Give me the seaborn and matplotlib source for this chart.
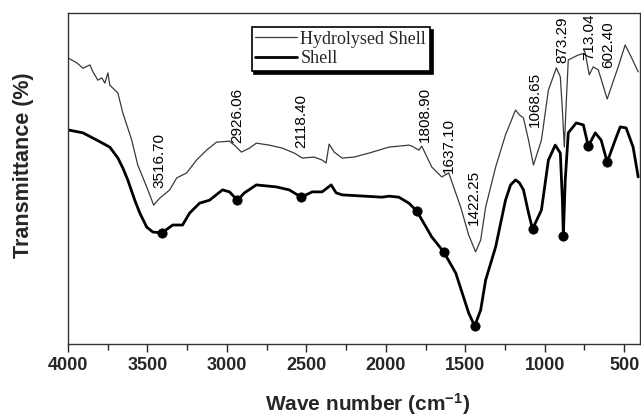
import numpy as np
import pandas as pd
import matplotlib
matplotlib.use("Agg")
import matplotlib.pyplot as plt
import seaborn as sns

# FTIR spectra (wave number in cm-1, transmittance in arbitrary %)
hydro_wn = [4000, 3944, 3906, 3862, 3843, 3812, 3787, 3768, 3749, 3737, 3686, 3655,
            3599, 3561, 3505, 3461, 3423, 3360, 3316, 3254, 3191, 3128, 3065, 2984,
            2946, 2909, 2858, 2815, 2733, 2652, 2576, 2526, 2451, 2401, 2376, 2357,
            2325, 2275, 2200, 2106, 1980, 1855, 1836, 1792, 1774, 1711, 1648, 1604,
            1529, 1479, 1435, 1403, 1372, 1309, 1247, 1209, 1184, 1159, 1134, 1102,
            1071, 1021, 977, 927, 902, 889, 877, 864, 852, 789, 745, 720, 695, 663,
            607, 538, 494, 456, 412]
hydro_t = [86.3, 84.8, 83.2, 84.2, 82.1, 79.6, 80.3, 78.7, 81.8, 78.1, 75.7, 69.7,
           61.5, 54.0, 47.4, 41.9, 44.0, 46.5, 50.1, 51.6, 55.5, 58.5, 60.9, 61.2,
           59.7, 57.9, 59.1, 60.6, 60.0, 59.1, 57.6, 56.1, 56.4, 55.5, 54.6, 60.3,
           57.9, 56.1, 56.4, 57.6, 59.4, 60.0, 59.7, 58.5, 59.7, 53.4, 50.4, 51.6,
           41.3, 32.9, 27.8, 31.4, 41.3, 53.4, 63.1, 67.6, 70.6, 69.1, 68.2, 61.5,
           54.0, 61.5, 76.6, 83.3, 80.6, 70.6, 59.4, 73.6, 85.7, 87.2, 87.8, 81.2,
           83.6, 82.7, 73.9, 83.6, 90.2, 86.6, 82.1]

shell_wn = [4000, 3906, 3818, 3737, 3686, 3655, 3624, 3580, 3548, 3505, 3467, 3410,
            3341, 3279, 3235, 3172, 3109, 3028, 2984, 2934, 2890, 2815, 2689, 2608,
            2532, 2463, 2401, 2344, 2313, 2275, 2024, 1980, 1918, 1855, 1805, 1711,
            1636, 1560, 1479, 1441, 1403, 1372, 1309, 1247, 1215, 1184, 1159, 1134,
            1102, 1077, 1021, 977, 934, 902, 889, 883, 871, 852, 802, 757, 726, 682,
            645, 607, 557, 525, 488, 444, 412]
shell_t = [64.6, 63.7, 61.5, 59.4, 56.1, 53.1, 49.5, 43.4, 39.5, 35.3, 33.8, 33.5,
           35.9, 35.9, 39.5, 42.5, 43.4, 46.5, 45.9, 43.4, 45.6, 48.0, 47.4, 46.5,
           44.3, 45.9, 45.9, 48.0, 45.6, 45.0, 44.3, 44.6, 44.3, 42.5, 40.1, 32.3,
           27.8, 21.4, 9.4, 5.4, 10.3, 19.3, 29.3, 43.4, 48.0, 49.5, 48.6, 46.5,
           39.5, 34.7, 40.4, 55.5, 60.0, 57.6, 43.4, 32.6, 49.5, 63.7, 66.7, 66.1,
           59.7, 63.7, 61.5, 54.9, 61.5, 65.5, 65.2, 59.4, 50.4]

# peaks marked with dots on the Shell curve
dot_wn = [3410, 2934, 2532, 1805, 1636, 1441, 1077, 883, 726, 607]

# peak labels and where they are written
peak_labels = ["3516.70", "2926.06", "2118.40", "1808.90", "1637.10",
               "1422.25", "1068.65", "873.29", "713.04", "602.40"]
label_wn = [3423, 2934, 2532, 1755, 1604, 1447, 1065, 889, 720, 601]
label_t = [47.1, 60.6, 59.1, 60.9, 51.6, 35.9, 65.5, 84.8, 85.7, 83.3]

sns.set_style("white")
plt.rcParams["font.family"] = ["Liberation Sans", "DejaVu Sans"]
plt.rcParams["mathtext.fontset"] = "custom"
plt.rcParams["mathtext.rm"] = "Liberation Sans:bold"
plt.rcParams["mathtext.default"] = "rm"

hydro = pd.DataFrame({"wn": hydro_wn, "T": hydro_t})
shell = pd.DataFrame({"wn": shell_wn, "T": shell_t})
dots = pd.DataFrame({"wn": dot_wn})
dots["T"] = np.interp(dots["wn"], shell["wn"][::-1], shell["T"][::-1])

fig = plt.figure(figsize=(6.41, 4.18), dpi=100)
ax = fig.add_axes([0.1061, 0.177, 0.8925, 0.793])

sns.lineplot(data=hydro, x="wn", y="T", ax=ax, color="#3a3a3a", linewidth=0.9,
             sort=False, estimator=None, label="Hydrolysed Shell")
sns.lineplot(data=shell, x="wn", y="T", ax=ax, color="black", linewidth=2.0,
             sort=False, estimator=None, label="Shell")
sns.scatterplot(data=dots, x="wn", y="T", ax=ax, color="black", s=45,
                edgecolor="black", zorder=5)

for txt, xw, yt in zip(peak_labels, label_wn, label_t):
    ax.text(xw, yt, txt, rotation=90, ha="center", va="bottom", fontsize=11,
            color="black")

ax.set_xlim(4000, 400)
ax.set_ylim(0, 100)
ax.set_xticks(np.arange(4000, 499, -500))
ax.set_xticks(np.arange(3750, 499, -500), minor=True)
ax.set_yticks([])
ax.tick_params(axis="x", which="major", direction="out", length=6, width=1,
               labelsize=13, pad=3, bottom=True)
ax.tick_params(axis="x", which="minor", direction="out", length=4, width=1,
               bottom=True)
for lab in ax.get_xticklabels():
    lab.set_fontweight("bold")

for side in ["left", "bottom", "top", "right"]:
    ax.spines[side].set_visible(True)
    ax.spines[side].set_color("#333333")
    ax.spines[side].set_linewidth(1.0)

ax.set_xlabel("Wave number (cm$^{-1}$)", fontsize=15, fontweight="bold")
ax.set_ylabel("Transmittance (%)", fontsize=15.5, fontweight="bold")
ax.xaxis.set_label_coords(0.524, -0.143)
ax.yaxis.set_label_coords(-0.06, 0.54)

leg = ax.legend(loc="upper left", bbox_to_anchor=(0.321, 0.956), borderaxespad=0,
                prop={"family": "Liberation Serif", "size": 13}, handlelength=2.3,
                handletextpad=0.2, borderpad=0.2, labelspacing=0.15,
                fancybox=False, framealpha=1, edgecolor="black",
                shadow={"color": "black", "alpha": 1})
leg.get_frame().set_linewidth(1.2)

fig.savefig("out.png", dpi=100)
